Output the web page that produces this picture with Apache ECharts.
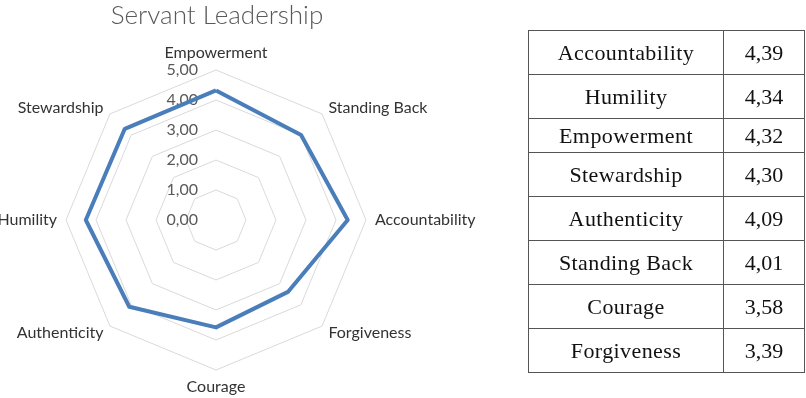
<!DOCTYPE html>
<html>
<head>
<meta charset="utf-8">
<script src="https://cdn.jsdelivr.net/npm/echarts@6/dist/echarts.min.js"></script>
<style>
  html, body { margin: 0; padding: 0; background: #fff; }
  #chart { position: absolute; left: 0; top: 0; width: 806px; height: 398px; }
  #scores {
    position: absolute; left: 528px; top: 30px; width: 277px;
    border-collapse: collapse;
    font-family: "Liberation Serif", serif; font-size: 22px; color: #111;
  }
  #scores td { border: 1.5px solid #555; text-align: center; padding: 0; height: 43px; }
  #scores td.name { width: 194px; letter-spacing: 0.4px; }
  #scores tr:nth-child(3) td { height: 33px; }
</style>
</head>
<body>
<div id="chart"></div>
<table id="scores"></table>
<script>
// clockwise from the top, as drawn
const dimensions = ['Empowerment', 'Standing Back', 'Accountability', 'Forgiveness', 'Courage', 'Authenticity', 'Humility', 'Stewardship'];
const scores = [4.32, 4.01, 4.39, 3.39, 3.58, 4.09, 4.34, 4.30];
const axisMax = 5;

function comma(v) {
  return Number(v).toFixed(2).replace('.', ',');
}

document.addEventListener('DOMContentLoaded', function() {
  // table, highest score first
  const rows = dimensions.map((d, i) => ({ name: d, value: scores[i] }))
    .sort((a, b) => b.value - a.value);
  document.getElementById('scores').innerHTML = rows.map(r =>
    `<tr><td class="name">${r.name}</td><td>${comma(r.value)}</td></tr>`).join('');

  // echarts lays indicators out counter-clockwise, so flip the order
  const order = [0].concat(dimensions.map((d, i) => i).slice(1).reverse());
  const indicator = order.map((i, k) => ({
    name: dimensions[i],
    max: axisMax,
    min: 0,
    axisLabel: { show: k === 0 }
  }));

  const chart = echarts.init(document.getElementById('chart'));
  chart.setOption({
    animation: false,
    title: {
      text: 'Servant Leadership',
      left: 212,
      textAlign: 'center',
      top: -2,
      textStyle: { fontFamily: 'Lato', fontWeight: 300, fontSize: 26, color: '#595959' }
    },
    radar: {
      center: [216, 220],
      radius: 150,
      startAngle: 90,
      splitNumber: 5,
      shape: 'polygon',
      indicator: indicator,
      nameGap: 9,
      axisName: { fontFamily: 'Lato', fontSize: 16, color: '#333' },
      axisLine: { show: false },
      splitArea: { show: false },
      splitLine: { lineStyle: { color: '#d9d9d9', width: 1 } },
      axisLabel: {
        show: false,
        margin: 18,
        fontFamily: 'Lato', fontSize: 16, color: '#595959',
        formatter: v => comma(v)
      }
    },
    series: [{
      type: 'radar',
      symbol: 'none',
      lineStyle: { color: '#4a7ebb', width: 4 },
      data: [{ value: order.map(i => scores[i]), name: 'Servant Leadership' }]
    }]
  });
});
</script>
</body>
</html>
